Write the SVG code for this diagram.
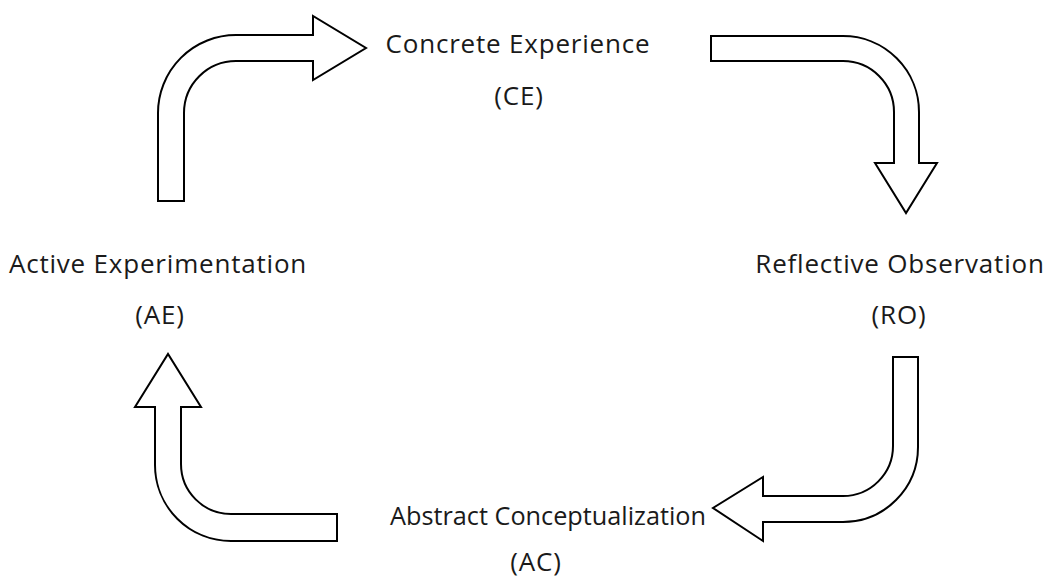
<svg xmlns="http://www.w3.org/2000/svg" width="1049" height="580" viewBox="0 0 1049 580">
<style>
.arrow{fill:#fff;stroke:#000;stroke-width:2;stroke-linejoin:miter}
.lbl{font-family:"Open Sans","Noto Sans",sans-serif;font-size:26px;letter-spacing:0.8px;fill:#1a1a1a;text-anchor:middle}
</style>
<rect width="1049" height="580" fill="#fff"/>
<g id="connectors">
<path id="arrow-ae-ce" class="arrow" d="M158,201 L158,113 A78,78 0 0 1 236,35 L313,35 L313,16 L366,48 L313,80 L313,61 L236,61 A52,52 0 0 0 184,113 L184,201 Z"/>
<path id="arrow-ce-ro" class="arrow" d="M711,36 L843,36 A76,76 0 0 1 919,112 L919,163 L937,163 L906,213 L875,163 L894,163 L894,112 A51,51 0 0 0 843,61 L711,61 Z"/>
<path id="arrow-ro-ac" class="arrow" d="M918,357 L918,447 A75,75 0 0 1 843,522 L763,522 L763,541 L713,508 L763,477 L763,496 L843,496 A50,50 0 0 0 893,446 L893,357 Z"/>
<path id="arrow-ac-ae" class="arrow" d="M337,514 L337,541 L231,541 A76,76 0 0 1 155,465 L155,407 L135,407 L168,354 L201,407 L181,407 L181,464 A50,50 0 0 0 231,514 Z"/>
</g>
<g id="node-ce">
<text class="lbl" x="518" y="53">Concrete Experience</text>
<text class="lbl" x="519" y="105">(CE)</text>
</g>
<g id="node-ro">
<text class="lbl" x="900" y="273">Reflective Observation</text>
<text class="lbl" x="899" y="324">(RO)</text>
</g>
<g id="node-ac">
<text class="lbl" x="548" y="525" style="letter-spacing:0" textLength="316" lengthAdjust="spacingAndGlyphs">Abstract Conceptualization</text>
<text class="lbl" x="536" y="571">(AC)</text>
</g>
<g id="node-ae">
<text class="lbl" x="158" y="273">Active Experimentation</text>
<text class="lbl" x="160" y="324">(AE)</text>
</g>
</svg>
